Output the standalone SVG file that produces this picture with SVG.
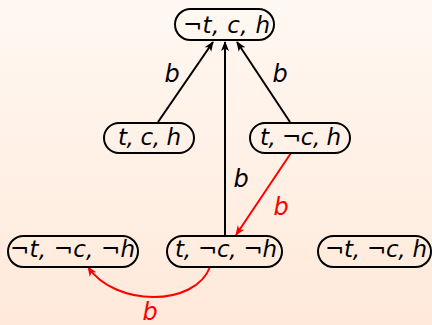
<svg xmlns="http://www.w3.org/2000/svg" width="432" height="325" viewBox="0 0 432 325">
<defs>
<linearGradient id="bg" x1="0" y1="0" x2="0" y2="1">
<stop offset="0" stop-color="#fff8f2"/>
<stop offset="1" stop-color="#ffe9da"/>
</linearGradient>
<marker id="ak" viewBox="0 0 10 10" refX="9" refY="5" markerWidth="10" markerHeight="10" markerUnits="userSpaceOnUse" orient="auto">
<path d="M0,1 L10,5 L0,9 L2.5,5 Z" fill="#000"/>
</marker>
<marker id="ar" viewBox="0 0 10 10" refX="9" refY="5" markerWidth="10" markerHeight="10" markerUnits="userSpaceOnUse" orient="auto">
<path d="M0,1 L10,5 L0,9 L2.5,5 Z" fill="#ff0000"/>
</marker>
<style>
.n rect{fill:none;stroke:#000;stroke-width:2}
.n text{font-family:"DejaVu Sans","Liberation Sans",sans-serif;font-style:italic;font-size:23px;fill:#000}
.e{fill:none;stroke:#000;stroke-width:2}
.r{stroke:#ff0000}
.l{font-family:"DejaVu Sans","Liberation Sans",sans-serif;font-style:italic;font-size:24px;text-anchor:middle;fill:#000}
.lr{fill:#ff0000}
</style>
</defs>
<rect width="432" height="325" fill="url(#bg)"/>
<g id="connectors">
<line class="e" x1="158" y1="122" x2="213" y2="42" marker-end="url(#ak)"/>
<line class="e" x1="225" y1="236" x2="225" y2="42" marker-end="url(#ak)"/>
<line class="e" x1="290" y1="122" x2="237" y2="42" marker-end="url(#ak)"/>
<line class="e r" x1="291" y1="153" x2="236" y2="235" marker-end="url(#ar)"/>
<path class="e r" d="M210,267 C195,307 115,307 88,267" marker-end="url(#ar)"/>
<text class="l" x="172" y="82">b</text>
<text class="l" x="280" y="82">b</text>
<text class="l" x="241" y="187">b</text>
<text class="l lr" x="281" y="215">b</text>
<text class="l lr" x="150" y="320">b</text>
</g>
<g id="n1" class="n"><rect x="175" y="9" width="99" height="31" rx="15.5"/><text x="183" y="33" textLength="87" lengthAdjust="spacing">¬t, c, h</text></g>
<g id="n2" class="n"><rect x="104" y="123" width="90" height="30" rx="15"/><text x="118" y="145" textLength="63" lengthAdjust="spacing">t, c, h</text></g>
<g id="n3" class="n"><rect x="250" y="123" width="100" height="30" rx="15"/><text x="260" y="145" textLength="81" lengthAdjust="spacing">t, ¬c, h</text></g>
<g id="n4" class="n"><rect x="8" y="236" width="130" height="31" rx="15.5"/><text x="10" y="257" textLength="125" lengthAdjust="spacing">¬t, ¬c, ¬h</text></g>
<g id="n5" class="n"><rect x="167" y="236" width="115" height="31" rx="15.5"/><text x="175" y="257" textLength="102" lengthAdjust="spacing">t, ¬c, ¬h</text></g>
<g id="n6" class="n"><rect x="318" y="236" width="113" height="31" rx="15.5"/><text x="325" y="257" textLength="102" lengthAdjust="spacing">¬t, ¬c, h</text></g>
</svg>
